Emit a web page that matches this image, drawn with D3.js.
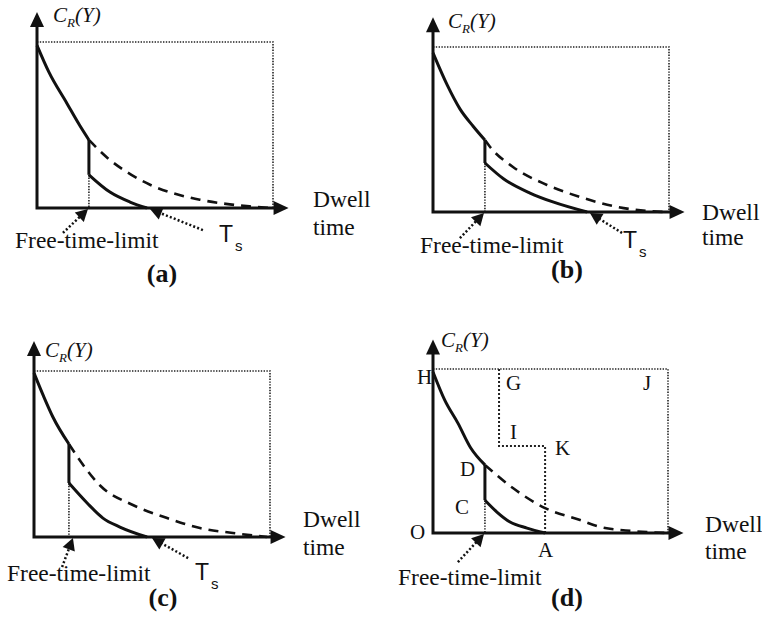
<!DOCTYPE html>
<html>
<head>
<meta charset="utf-8">
<script src="https://cdn.jsdelivr.net/npm/d3@7"></script>
<style>
body{margin:0;background:#fff;}
text{font-family:"Liberation Serif","Times New Roman",serif;fill:#111;}
</style>
</head>
<body>
<script>
var width = 762, height = 619;

// points
// x: 0 = origin, 1 = right dotted edge ; y: 0 = time axis, 1 = top dotted line
var upperA  = [[0,0.98],[0.05,0.82],[0.127,0.63],[0.18,0.5],[0.22,0.41]];
var dashedA = [[0.22,0.41],[0.3,0.3],[0.4,0.2],[0.479,0.14],[0.6,0.08],[0.69,0.05],[0.8,0.025],[0.9,0.01],[1,0]];
var lowerA  = [[0.22,0.2],[0.309,0.096],[0.394,0.036],[0.466,0]];

var upperB  = [[0,0.964],[0.06,0.77],[0.114,0.625],[0.17,0.52],[0.22,0.436]];
var dashedB = [[0.22,0.436],[0.242,0.394],[0.339,0.273],[0.483,0.164],[0.623,0.091],[0.763,0.036],[0.907,0.006],[0.99,0]];
var lowerB  = [[0.22,0.297],[0.3,0.2],[0.411,0.115],[0.508,0.061],[0.653,0]];

var upperC  = [[0,0.988],[0.04,0.85],[0.08,0.723],[0.148,0.56]];
var dashedC = [[0.148,0.56],[0.2,0.45],[0.28,0.31],[0.419,0.193],[0.564,0.114],[0.703,0.054],[0.843,0.024],[0.987,0]];
var lowerC  = [[0.148,0.325],[0.225,0.205],[0.292,0.114],[0.364,0.06],[0.479,0]];

var upperD  = [[0,0.982],[0.05,0.81],[0.106,0.67],[0.16,0.52],[0.221,0.415]];
var dashedD = [[0.221,0.415],[0.34,0.274],[0.477,0.152],[0.626,0.079],[0.711,0.037],[0.85,0.012],[1,0]];
var lowerD  = [[0.221,0.2],[0.272,0.128],[0.328,0.067],[0.4,0.03],[0.477,0]];
// G - I - K - A step in panel (d)
var stepD   = [[0.281,1],[0.281,0.53],[0.477,0.53],[0.477,0]];
var letterD = ["H","G","J","I","K","D","C","O","A"];

var panelNames = ["(a)","(b)","(c)","(d)"];

var svg = d3.select("body").append("svg")
  .attr("width", width)
  .attr("height", height);

// layout of each small chart (pixels)
var panels = [
  {name:panelNames[0], ox:37, oy:208, w:236, h:166, up:upperA, dash:dashedA, low:lowerA,
   cr:[16,-186], dwell:[276,-1,27], ftl:[-22,40], ftlLead:[[0.11,-0.15],[0.216,-0.006]],
   ts:[182,34], tsLead:[[0.703,-0.133],[0.479,-0.006]], cap:[125,74]},
  {name:panelNames[1], ox:433, oy:212, w:236, h:165, up:upperB, dash:dashedB, low:lowerB,
   cr:[15,-184], dwell:[269,8,33], ftl:[-13,41], ftlLead:[[0.114,-0.158],[0.216,-0.006]],
   ts:[190,36], tsLead:[[0.801,-0.127],[0.665,-0.006]], cap:[134,66]},
  {name:panelNames[2], ox:34, oy:537, w:236, h:166, up:upperC, dash:dashedC, low:lowerC,
   cr:[11,-180], dwell:[269,-10,18], ftl:[-27,44], ftlLead:[[0.119,-0.181],[0.165,-0.006]],
   ts:[161,43], tsLead:[[0.653,-0.127],[0.5,-0.006]], cap:[129,69]},
  {name:panelNames[3], ox:433, oy:533, w:235, h:164, up:upperD, dash:dashedD, low:lowerD,
   cr:[8,-186], dwell:[272,-1,26], ftl:[-35,52], ftlLead:[[0.106,-0.177],[0.217,-0.006]],
   ts:null, cap:[134,73], step:stepD,
   letters:[[-16,-149],[73,-143],[210,-143],[77,-94],[122,-78],[27,-57],[22,-19],[-23,6],[105,24]]}
];

function arrowHead(g, tip, from, len, half) {
  var dx = tip[0] - from[0], dy = tip[1] - from[1];
  var d = Math.sqrt(dx*dx + dy*dy);
  var ux = dx/d, uy = dy/d;
  var bx = tip[0] - ux*len, by = tip[1] - uy*len;
  var pts = [tip, [bx - uy*half, by + ux*half], [bx + uy*half, by - ux*half]];
  g.append("path")
    .attr("d", "M" + pts.join("L") + "Z")
    .attr("fill", "#111");
  return [bx + ux*2, by + uy*2];
}

function leader(g, x, y, lead) {
  var from = [x(lead[0][0]), y(lead[0][1])];
  var tip = [x(lead[1][0]), y(lead[1][1])];
  var base = arrowHead(g, tip, from, 12, 6.5);
  g.append("line")
    .attr("x1", from[0]).attr("y1", from[1])
    .attr("x2", base[0]).attr("y2", base[1])
    .attr("stroke", "#111")
    .attr("stroke-width", 2.5)
    .attr("stroke-dasharray", "2,2.2");
}

function drawPanel(p) {
  var x = d3.scaleLinear().domain([0,1]).range([p.ox, p.ox + p.w]);
  var y = d3.scaleLinear().domain([0,1]).range([p.oy, p.oy - p.h]);
  var g = svg.append("g");

  var smooth = d3.line()
    .x(function(d){ return x(d[0]); })
    .y(function(d){ return y(d[1]); })
    .curve(d3.curveMonotoneX);
  var straight = d3.line()
    .x(function(d){ return x(d[0]); })
    .y(function(d){ return y(d[1]); });

  var jx = p.low[0][0];

  // dotted frame and guide
  g.append("path")
    .attr("d", straight([[0,1],[1,1],[1,0]]))
    .attr("fill", "none")
    .attr("stroke", "#222")
    .attr("stroke-width", 1.6)
    .attr("stroke-dasharray", "1.4,1.4");
  g.append("path")
    .attr("d", straight([[jx,p.low[0][1]],[jx,0]]))
    .attr("fill", "none")
    .attr("stroke", "#222")
    .attr("stroke-width", 1.6)
    .attr("stroke-dasharray", "1.4,1.4");
  if (p.step) {
    g.append("path")
      .attr("d", straight(p.step))
      .attr("fill", "none")
      .attr("stroke", "#222")
      .attr("stroke-width", 2)
      .attr("stroke-dasharray", "2,2");
  }

  // dashed continuation
  g.append("path")
    .attr("d", smooth(p.dash))
    .attr("fill", "none")
    .attr("stroke", "#111")
    .attr("stroke-width", 2.6)
    .attr("stroke-dasharray", "10,7");

  // solid cost curve with the jump
  g.append("path")
    .attr("d", smooth(p.up))
    .attr("fill", "none")
    .attr("stroke", "#111")
    .attr("stroke-width", 3);
  g.append("path")
    .attr("d", straight([p.up[p.up.length-1], p.low[0]]))
    .attr("fill", "none")
    .attr("stroke", "#111")
    .attr("stroke-width", 3);
  g.append("path")
    .attr("d", smooth(p.low))
    .attr("fill", "none")
    .attr("stroke", "#111")
    .attr("stroke-width", 3);

  // axes with arrow heads
  var o = [x(0), y(0)];
  var yTip = [x(0), y(1.18)];
  var xTip = [x(1.066), y(0)];
  var yb = arrowHead(g, yTip, o, 15, 7);
  var xb = arrowHead(g, xTip, o, 15, 7);
  g.append("path")
    .attr("d", "M" + yb + "L" + o + "L" + xb)
    .attr("fill", "none")
    .attr("stroke", "#111")
    .attr("stroke-width", 3);

  // axis titles
  var cr = g.append("text")
    .attr("x", p.ox + p.cr[0]).attr("y", p.oy + p.cr[1])
    .style("font-style", "italic")
    .style("font-size", "21px");
  cr.append("tspan").text("C");
  cr.append("tspan").attr("dy", 5).style("font-size", "13px").text("R");
  cr.append("tspan").attr("dy", -5).text("(Y)");

  g.append("text")
    .attr("x", p.ox + p.dwell[0]).attr("y", p.oy + p.dwell[1])
    .style("font-size", "23.5px").text("Dwell");
  g.append("text")
    .attr("x", p.ox + p.dwell[0]).attr("y", p.oy + p.dwell[2])
    .style("font-size", "23.5px").text("time");

  g.append("text")
    .attr("x", p.ox + p.ftl[0]).attr("y", p.oy + p.ftl[1])
    .style("font-size", "23.5px").text("Free-time-limit");
  leader(g, x, y, p.ftlLead);

  if (p.ts) {
    var ts = g.append("text")
      .attr("x", p.ox + p.ts[0]).attr("y", p.oy + p.ts[1])
      .style("font-family", "'Liberation Sans', Arial, sans-serif")
      .style("font-size", "23px");
    ts.append("tspan").text("T");
    ts.append("tspan").attr("dx", 2).attr("dy", 9).style("font-size", "15px").text("s");
    leader(g, x, y, p.tsLead);
  }

  if (p.letters) {
    g.selectAll("text.pt")
      .data(letterD)
      .enter()
      .append("text")
      .attr("class", "pt")
      .attr("x", function(d,i){ return p.ox + p.letters[i][0]; })
      .attr("y", function(d,i){ return p.oy + p.letters[i][1]; })
      .style("font-size", "21px")
      .text(function(d){ return d; });
  }

  g.append("text")
    .attr("x", p.ox + p.cap[0]).attr("y", p.oy + p.cap[1])
    .attr("text-anchor", "middle")
    .style("font-weight", "bold")
    .style("font-size", "26px")
    .text(p.name);
}

panels.forEach(drawPanel);
</script>
</body>
</html>
